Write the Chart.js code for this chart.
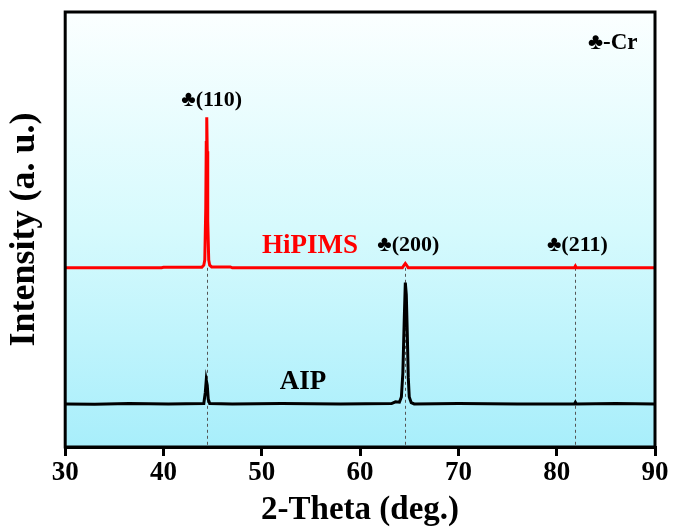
<!DOCTYPE html>
<html>
<head>
<meta charset="utf-8">
<script src="https://cdn.jsdelivr.net/npm/chart.js@4"></script>
<style>
  html, body { margin: 0; padding: 0; background: #fff; }
  #wrap { width: 673px; height: 530px; }
</style>
</head>
<body>
<div id="wrap"><canvas id="xrd-chart" width="673" height="530"></canvas></div>
<script>
// 2-theta (deg.) and intensity (a. u., offset)
const hipimsAngle = [30, 36.0, 39.8, 40.0, 43.9, 44.1, 44.2, 44.3, 44.35, 44.4, 44.45, 44.5, 44.6, 44.7, 44.9, 46.8, 47.0, 56.0, 64.3, 64.5, 64.6, 64.7, 64.9, 75.0, 81.8, 81.9, 82.0, 90];
const hipimsIntensity = [41.2, 41.2, 41.2, 41.3, 41.3, 41.8, 43.0, 55.0, 70.0, 75.8, 68.0, 52.0, 43.0, 41.8, 41.4, 41.4, 41.2, 41.2, 41.2, 41.9, 42.2, 41.9, 41.2, 41.2, 41.2, 41.6, 41.2, 41.2];

const aipAngle = [30, 33.0, 36.5, 40.5, 44.1, 44.25, 44.35, 44.45, 44.55, 44.7, 47.0, 52.0, 58.0, 63.2, 63.6, 64.0, 64.2, 64.35, 64.5, 64.6, 64.7, 64.8, 64.9, 65.0, 65.2, 65.5, 70.0, 76.0, 81.8, 81.9, 82.0, 86.0, 90];
const aipIntensity = [9.9, 9.8, 10.0, 9.9, 10.0, 12.5, 15.4, 14.2, 11.0, 10.0, 9.9, 10.0, 9.9, 10.0, 10.4, 10.3, 11.5, 17.0, 30.0, 37.8, 35.0, 26.0, 16.0, 11.5, 10.2, 9.9, 10.0, 9.9, 9.9, 10.3, 9.9, 10.0, 9.9];

// reference lines for the Cr reflections
const peakAngle = [44.4, 64.6, 81.9];
const peakTop = [41.2, 41.2, 41.2];

const xTicks = [30, 40, 50, 60, 70, 80, 90];

// text labels placed in data coordinates
const noteText = ['\u2663(110)', 'HiPIMS', '\u2663(200)', '\u2663(211)', 'AIP', '\u2663-Cr'];
const noteX = [44.9, 54.9, 64.9, 82.1, 54.2, 85.7];
const noteY = [79.8, 46.3, 46.3, 46.3, 15.0, 92.8];
const noteColor = ['#000', '#ff0000', '#000', '#000', '#000', '#000'];
const noteSize = [22, 27, 22, 22, 27, 23];

function toPoints(xs, ys) {
    return xs.map(function (x, i) { return { x: x, y: ys[i] }; });
}

var chart = {};

const backdrop = {
    id: 'backdrop',
    beforeDatasetsDraw: function (c) {
        const a = c.chartArea;
        const ctx = c.ctx;
        const g = ctx.createLinearGradient(0, a.top, 0, a.bottom);
        g.addColorStop(0, '#fbffff');
        g.addColorStop(0.5, '#d6fafd');
        g.addColorStop(1, '#a8eefb');
        ctx.save();
        ctx.fillStyle = g;
        ctx.fillRect(a.left, a.top, a.right - a.left, a.bottom - a.top);

        // dashed guide lines
        const xs = c.scales.x, ys = c.scales.y;
        ctx.strokeStyle = '#555';
        ctx.lineWidth = 1;
        ctx.setLineDash([3, 3]);
        peakAngle.forEach(function (p, i) {
            const px = Math.round(xs.getPixelForValue(p)) + 0.5;
            ctx.beginPath();
            ctx.moveTo(px, ys.getPixelForValue(peakTop[i]));
            ctx.lineTo(px, a.bottom);
            ctx.stroke();
        });
        ctx.restore();
    },
    afterDatasetsDraw: function (c) {
        const a = c.chartArea;
        const ctx = c.ctx;
        const xs = c.scales.x, ys = c.scales.y;
        ctx.save();
        ctx.textAlign = 'center';
        ctx.textBaseline = 'middle';
        noteText.forEach(function (t, i) {
            ctx.fillStyle = noteColor[i];
            ctx.font = 'bold ' + noteSize[i] + 'px "Liberation Serif", serif';
            ctx.fillText(t, xs.getPixelForValue(noteX[i]), ys.getPixelForValue(noteY[i]));
        });
        ctx.strokeStyle = '#000';
        ctx.lineWidth = 3;
        ctx.strokeRect(a.left, a.top, a.right - a.left, a.bottom - a.top);
        ctx.restore();
    }
};

chart.init = function () {
    const ctx = document.getElementById('xrd-chart');

    const config = {
        type: 'scatter',
        data: {
            datasets: [
                {
                    label: 'HiPIMS',
                    data: toPoints(hipimsAngle, hipimsIntensity),
                    showLine: true,
                    borderColor: '#ff0000',
                    borderWidth: 3,
                    pointRadius: 0,
                    tension: 0,
                },
                {
                    label: 'AIP',
                    data: toPoints(aipAngle, aipIntensity),
                    showLine: true,
                    borderColor: '#000000',
                    borderWidth: 3,
                    pointRadius: 0,
                    tension: 0,
                }
            ]
        },
        options: {
            responsive: false,
            animation: false,
            layout: {
                padding: { top: 12, right: 18, left: 3, bottom: 0 }
            },
            plugins: {
                legend: { display: false },
                tooltip: { enabled: false }
            },
            scales: {
                x: {
                    type: 'linear',
                    min: 30,
                    max: 90,
                    afterBuildTicks: function (s) {
                        s.ticks = xTicks.map(function (v) { return { value: v }; });
                    },
                    grid: {
                        drawOnChartArea: false,
                        drawTicks: true,
                        tickLength: 9,
                        lineWidth: 3,
                        color: '#000'
                    },
                    border: { display: true, width: 3, color: '#000' },
                    ticks: {
                        color: '#000',
                        padding: 1,
                        maxRotation: 0,
                        font: { family: '"Liberation Serif", serif', weight: 'bold', size: 27 }
                    },
                    title: {
                        display: true,
                        text: '2-Theta (deg.)',
                        color: '#000',
                        padding: { top: 0, bottom: 0 },
                        font: { family: '"Liberation Serif", serif', weight: 'bold', size: 33 }
                    }
                },
                y: {
                    min: 0,
                    max: 100,
                    grid: { display: false, drawTicks: false },
                    border: { display: true, width: 3, color: '#000' },
                    ticks: { display: false },
                    title: {
                        display: true,
                        text: 'Intensity (a. u.)',
                        color: '#000',
                        padding: { top: 0, bottom: 19 },
                        font: { family: '"Liberation Serif", serif', weight: 'bold', size: 36 }
                    }
                }
            }
        },
        plugins: [backdrop]
    };

    chart.chart = new Chart(ctx, config);
};

chart.init();
</script>
</body>
</html>
